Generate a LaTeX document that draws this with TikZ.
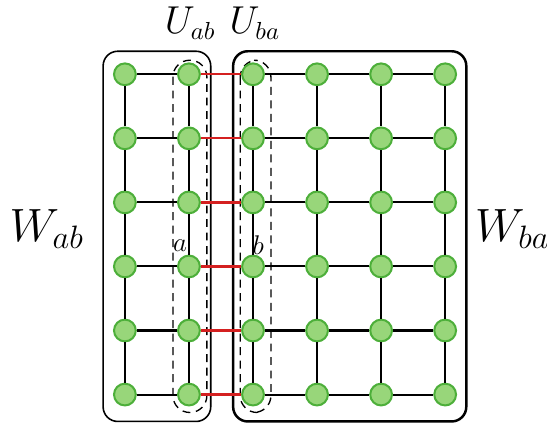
\documentclass[tikz,border=0pt]{standalone}
\usepackage{amsmath}
\usepackage{xcolor}
\usepackage{tikz}
\definecolor{vxfill}{HTML}{98D67A}
\definecolor{vxedge}{HTML}{4DAF3A}
\definecolor{cutred}{HTML}{D42020}
\tikzset{
  vx/.style={circle,draw=vxedge,line width=0.9pt,fill=vxfill,minimum size=3.4mm,inner sep=0pt},
  ed/.style={line width=0.9pt,black},
  cut/.style={line width=1pt,cutred},
  part/.style={draw,rounded corners=6.5pt},
  sep/.style={draw,line width=0.6pt,dash pattern=on 3.5pt off 2.5pt,rounded corners=7.5pt},
  lbl/.style={font=\fontsize{16}{19}\selectfont}
}
\begin{document}
\begin{tikzpicture}
\useasboundingbox (-1.95,-5.45) rectangle (6.59,1.16);
% the two parts and the separators
\draw[part,line width=0.7pt] (-0.34,0.36) rectangle (1.34,-5.42);
\draw[part,line width=1.1pt] (1.69,0.36) rectangle (5.33,-5.42);
\draw[sep] (0.75,0.22) rectangle (1.28,-5.28);
\draw[sep] (1.80,0.22) rectangle (2.28,-5.28);
% vertices
\foreach \i in {0,...,5}
  \foreach \j in {0,...,5}
    \node[vx] (n-\i-\j) at (\i,-\j) {};
% horizontal edges, the cut in red
\foreach \j in {0,...,5} {
  \draw[ed] (n-0-\j) -- (n-1-\j);
  \draw[cut] (n-1-\j) -- (n-2-\j);
  \foreach \i in {2,3,4} {
    \pgfmathtruncatemacro\k{\i+1}
    \draw[ed] (n-\i-\j) -- (n-\k-\j);
  }
}
% vertical edges
\foreach \i in {0,...,5}
  \foreach \j in {0,...,4} {
    \pgfmathtruncatemacro\k{\j+1}
    \draw[ed] (n-\i-\j) -- (n-\i-\k);
  }
% labels
\node[lbl] (uab) at (1.02,0.8) {$U_{ab}$};
\node[lbl] (uba) at (2.03,0.8) {$U_{ba}$};
\node[font=\huge] (wab) at (-1.22,-2.41) {$W_{ab}$};
\node[font=\huge] (wba) at (6.05,-2.41) {$W_{ba}$};
\node[font=\large] (la) at (0.86,-2.67) {$a$};
\node[font=\large] (lb) at (2.08,-2.67) {$b$};
\end{tikzpicture}
\end{document}
